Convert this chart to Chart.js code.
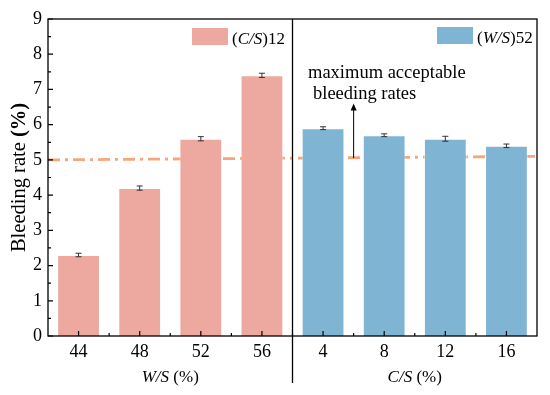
<!DOCTYPE html>
<html>
<head>
<meta charset="utf-8">
<script src="https://cdn.jsdelivr.net/npm/chart.js@4"></script>
<style>
  html, body { margin: 0; padding: 0; background: #fff; }
  #wrap { width: 550px; height: 395px; }
</style>
</head>
<body>
<div id="wrap"><canvas id="chart"></canvas></div>
<script>
// data
const categories = ['44', '48', '52', '56', '4', '8', '12', '16'];
const wsRates = [2.3, 4.2, 5.6, 7.4, null, null, null, null];   // (C/S)12, varying W/S
const csRates = [null, null, null, null, 5.9, 5.7, 5.6, 5.4];   // (W/S)52, varying C/S
const wsErr = [0.05, 0.06, 0.06, 0.06, 0, 0, 0, 0];
const csErr = [0, 0, 0, 0, 0.04, 0.04, 0.07, 0.05];
const limitLine = [{ x: 0, y: 5.0 }, { x: 1, y: 5.1 }];
const yTicks = [0, 1, 2, 3, 4, 5, 6, 7, 8, 9];

const SERIF = '"Liberation Serif", "Times New Roman", serif';
const PINK = '#eda8a0';
const BLUE = '#7fb4d3';
const ORANGE = '#f4a77c';

const extras = {
  id: 'extras',
  afterDatasetsDraw(chart) {
    const ctx = chart.ctx;
    const y = chart.scales.y;

    // error bars
    ctx.save();
    ctx.strokeStyle = '#333';
    ctx.lineWidth = 1;
    [[0, wsRates, wsErr], [1, csRates, csErr]].forEach(([di, vals, errs]) => {
      const meta = chart.getDatasetMeta(di);
      vals.forEach((v, i) => {
        if (v == null) return;
        const cx = meta.data[i].x;
        const y1 = y.getPixelForValue(v + errs[i]);
        const y2 = y.getPixelForValue(v - errs[i]);
        ctx.beginPath();
        ctx.moveTo(cx, y1); ctx.lineTo(cx, y2);
        ctx.moveTo(cx - 3, y1); ctx.lineTo(cx + 3, y1);
        ctx.moveTo(cx - 3, y2); ctx.lineTo(cx + 3, y2);
        ctx.stroke();
      });
    });
    ctx.restore();
  },
  afterDraw(chart) {
    const ctx = chart.ctx;
    const area = chart.chartArea;
    const x = chart.scales.x;
    const y = chart.scales.y;
    ctx.save();

    // frame
    ctx.strokeStyle = '#000';
    ctx.lineWidth = 1.3;
    ctx.strokeRect(area.left, area.top, area.right - area.left, area.bottom - area.top);

    // inward ticks on x
    ctx.lineWidth = 1.2;
    ctx.beginPath();
    categories.forEach((c, i) => {
      const px = x.getPixelForValue(i);
      ctx.moveTo(px, area.bottom); ctx.lineTo(px, area.bottom - 5);
      if (i > 0) {
        const mx = (px + x.getPixelForValue(i - 1)) / 2;
        ctx.moveTo(mx, area.bottom); ctx.lineTo(mx, area.bottom - 3);
      }
    });
    // inward ticks on y
    yTicks.forEach(t => {
      const py = y.getPixelForValue(t);
      ctx.moveTo(area.left, py); ctx.lineTo(area.left + 5, py);
      if (t < 9) {
        const my = y.getPixelForValue(t + 0.5);
        ctx.moveTo(area.left, my); ctx.lineTo(area.left + 3, my);
      }
    });
    ctx.stroke();

    // divider between the two groups
    const divX = (x.getPixelForValue(3) + x.getPixelForValue(4)) / 2;
    ctx.lineWidth = 1.3;
    ctx.beginPath();
    ctx.moveTo(divX, area.top);
    ctx.lineTo(divX, 383);
    ctx.stroke();

    // legend boxes
    ctx.textBaseline = 'alphabetic';
    const legend = (bx, by, color, pre, it, post) => {
      ctx.fillStyle = color;
      ctx.fillRect(bx, by, 36, 17);
      let tx = bx + 40;
      ctx.fillStyle = '#000';
      ctx.font = '17px ' + SERIF;
      ctx.fillText(pre, tx, by + 16); tx += ctx.measureText(pre).width;
      ctx.font = 'italic 17px ' + SERIF;
      ctx.fillText(it, tx, by + 16); tx += ctx.measureText(it).width;
      ctx.font = '17px ' + SERIF;
      ctx.fillText(post, tx, by + 16);
    };
    legend(192, 28, PINK, '(', 'C/S', ')12');
    legend(437, 27, BLUE, '(', 'W/S', ')52');

    // annotation
    ctx.fillStyle = '#000';
    ctx.font = '18.5px ' + SERIF;
    ctx.fillText('maximum acceptable', 308, 78);
    ctx.fillText('bleeding rates', 313, 99);
    const ax = (x.getPixelForValue(4) + x.getPixelForValue(5)) / 2;
    const ay0 = y.getPixelForValue(5.05);
    const ay1 = y.getPixelForValue(6.6);
    ctx.lineWidth = 1;
    ctx.beginPath();
    ctx.moveTo(ax, ay0); ctx.lineTo(ax, ay1 + 5);
    ctx.stroke();
    ctx.beginPath();
    ctx.moveTo(ax, ay1); ctx.lineTo(ax - 3, ay1 + 7); ctx.lineTo(ax + 3, ay1 + 7);
    ctx.closePath(); ctx.fill();

    // axis titles
    const mixed = (parts, cx, cy) => {
      let w = 0;
      parts.forEach(p => { ctx.font = p[1] + SERIF; w += ctx.measureText(p[0]).width; });
      let tx = cx - w / 2;
      parts.forEach(p => {
        ctx.font = p[1] + SERIF;
        ctx.fillText(p[0], tx, cy);
        tx += ctx.measureText(p[0]).width;
      });
    };
    const leftMid = (x.getPixelForValue(0) + x.getPixelForValue(3)) / 2;
    const rightMid = (x.getPixelForValue(4) + x.getPixelForValue(7)) / 2;
    mixed([['W/S', 'italic 17px '], [' (%)', '17px ']], leftMid, 382);
    mixed([['C/S', 'italic 17px '], [' (%)', '17px ']], rightMid, 382);

    ctx.save();
    ctx.translate(25, (area.top + area.bottom) / 2);
    ctx.rotate(-Math.PI / 2);
    mixed([['Bleeding rate ', '20.5px '], ['(%)', 'bold 20.5px ']], 0, 0);
    ctx.restore();

    ctx.restore();
  }
};

new Chart(document.getElementById('chart'), {
  data: {
    labels: categories,
    datasets: [
      {
        type: 'bar', data: wsRates, backgroundColor: PINK,
        borderColor: 'rgba(255,255,255,0.5)', borderWidth: 1,
        barPercentage: 0.7, categoryPercentage: 1, grouped: false
      },
      {
        type: 'bar', data: csRates, backgroundColor: BLUE,
        borderColor: 'rgba(255,255,255,0.5)', borderWidth: 1,
        barPercentage: 0.7, categoryPercentage: 1, grouped: false
      },
      {
        type: 'line', data: limitLine, xAxisID: 'xl',
        borderColor: ORANGE, borderWidth: 2.8, borderDash: [12, 5, 3, 5],
        pointRadius: 0, fill: false
      }
    ]
  },
  options: {
    responsive: true,
    maintainAspectRatio: false,
    animation: false,
    layout: { padding: { left: 0, right: 13, top: 19, bottom: 0 } },
    plugins: { legend: { display: false }, tooltip: { enabled: false } },
    scales: {
      x: {
        type: 'category',
        grid: { display: false, drawTicks: false },
        border: { display: false },
        ticks: { color: '#000', padding: 5, font: { family: SERIF, size: 18 } },
        afterFit: s => { s.height = 59; }
      },
      xl: { type: 'linear', min: 0, max: 1, display: false },
      y: {
        min: 0, max: 9,
        afterBuildTicks: s => { s.ticks = yTicks.map(v => ({ value: v })); },
        grid: { display: false, drawTicks: false },
        border: { display: false },
        ticks: { color: '#000', padding: 6, font: { family: SERIF, size: 18 } },
        afterFit: s => { s.width = 48; }
      }
    }
  },
  plugins: [extras]
});
</script>
</body>
</html>
